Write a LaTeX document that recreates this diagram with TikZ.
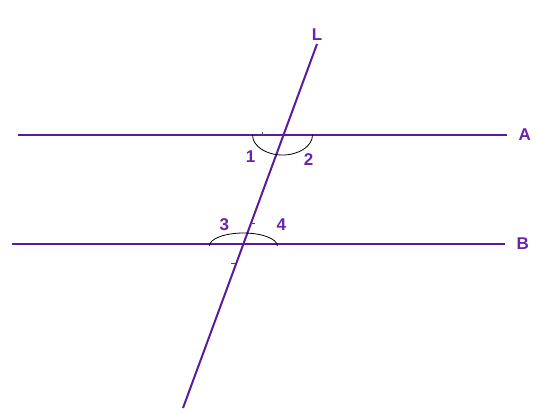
\documentclass[tikz,border=0pt]{standalone}
\usepackage{fontspec}
\setmainfont{Liberation Sans}
\usetikzlibrary{positioning, calc}
\definecolor{linepurple}{HTML}{5B1A9E}
\definecolor{labelpurple}{HTML}{6A22B0}

\begin{document}
\begin{tikzpicture}[
      x=1pt, y=-1pt,
      every node/.style={font=\bfseries\fontsize{17}{17}\selectfont, text=labelpurple},
      lineseg/.style={draw=linepurple, line width=2pt},
      anglearc/.style={draw=black, line width=0.8pt},
      compassmark/.style={draw=black!70, line width=0.6pt},
    ]
    \useasboundingbox (0,0) rectangle (537,413);

    % the two parallels and the transversal
    \coordinate (a1) at (18,135);
    \coordinate (a2) at (507,135);
    \coordinate (b1) at (12,244);
    \coordinate (b2) at (505,244);
    \coordinate (ltop) at (317,44);
    \coordinate (lbot) at (183,408);

    \draw[lineseg] (a1) -- (a2);
    \draw[lineseg] (b1) -- (b2);
    \draw[lineseg] (ltop) -- (lbot);

    \node[right=8pt of a2] (labA) {A};
    \node[right=8pt of b2] (labB) {B};
    \node[above=0pt of ltop] (labL) {L};

    \coordinate (pA) at (intersection of a1--a2 and ltop--lbot);
    \coordinate (pB) at (intersection of b1--b2 and ltop--lbot);

    % angle arcs
    \draw[anglearc] ($(pA)+(-31,0)$) arc[start angle=180, end angle=360, x radius=30pt, y radius=20pt];
    \draw[anglearc] ($(pB)+(-34,2)$) arc[start angle=180, end angle=0, x radius=34pt, y radius=13pt];

    % compass marks
    \draw[compassmark] (262,132) -- (262,136);
    \draw[compassmark] (251,223) -- (255,223);
    \draw[compassmark] (231,263) -- (235,263);

    \node (one) at ($(pA)+(-33,22)$) {1};
    \node (two) at ($(pA)+(25,25)$) {2};
    \node (three) at ($(pB)+(-19,-19)$) {3};
    \node (four) at ($(pB)+(38,-19)$) {4};
  \end{tikzpicture}
\end{document}
